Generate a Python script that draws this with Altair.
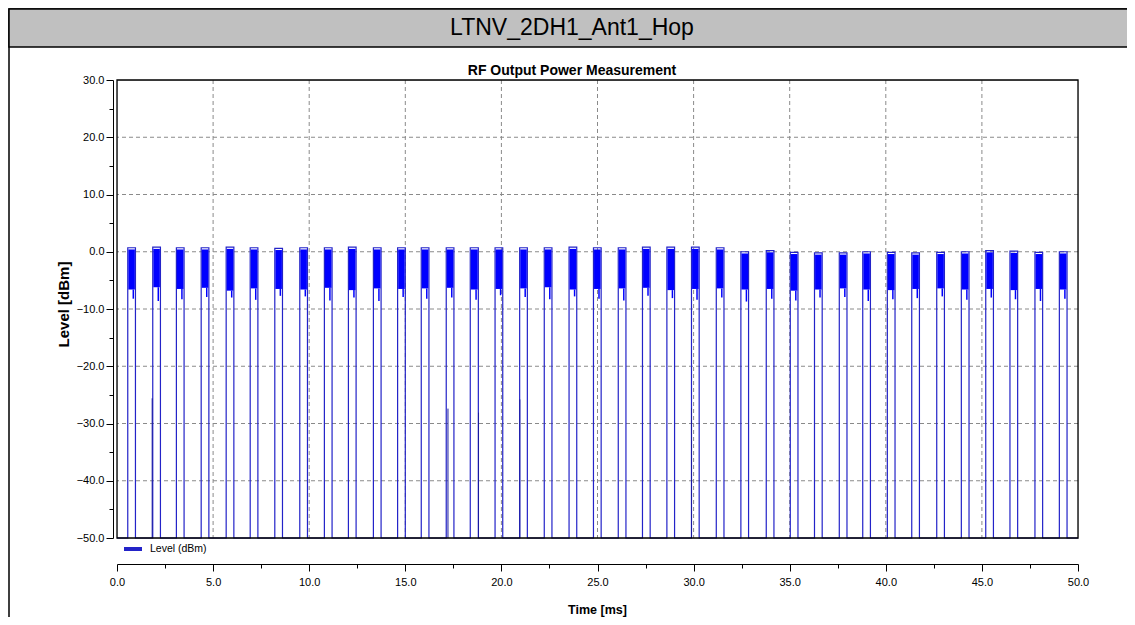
import altair as alt
import pandas as pd

header_text = ["LTNV_2DH1_Ant1_Hop"]
chart_title = ["RF Output Power Measurement"]
series_name = "Level (dBm)"

# burst start / end times (ms)
pulse_start = [0.56, 1.86, 3.09, 4.38, 5.68, 6.93, 8.21, 9.51, 10.79, 12.04,
               13.34, 14.60, 15.83, 17.13, 18.38, 19.67, 20.95, 22.23, 23.52, 24.79,
               26.08, 27.34, 28.61, 29.89, 31.18, 32.46, 33.78, 35.03, 36.29, 37.58,
               38.80, 40.08, 41.35, 42.65, 43.93, 45.20, 46.46, 47.76, 49.03]
pulse_end = [0.96, 2.26, 3.49, 4.78, 6.08, 7.33, 8.61, 9.91, 11.19, 12.44,
             13.74, 15.00, 16.23, 17.53, 18.80, 20.07, 21.35, 22.63, 23.92, 25.19,
             26.48, 27.74, 29.01, 30.29, 31.58, 32.86, 34.18, 35.43, 36.69, 37.98,
             39.20, 40.48, 41.75, 43.05, 44.33, 45.60, 46.86, 48.16, 49.43]
# burst peak level (dBm)
pulse_top = [0.7, 0.8, 0.7, 0.7, 0.8, 0.7, 0.6, 0.7, 0.7, 0.8,
             0.7, 0.7, 0.7, 0.7, 0.7, 0.7, 0.7, 0.7, 0.8, 0.7,
             0.7, 0.8, 0.8, 0.8, 0.7, 0.0, 0.2, -0.1, -0.2, -0.2,
             0.0, -0.1, -0.2, -0.1, 0.0, 0.2, 0.1, -0.1, 0.0]
# lower edge of the dense modulation band (dBm)
band_low = [-6.6, -6.2, -6.5, -6.3, -6.8, -6.4, -6.5, -6.6, -6.3, -6.7,
            -6.4, -6.5, -6.4, -6.3, -6.6, -6.5, -6.4, -6.2, -6.6, -6.5,
            -6.4, -6.3, -6.7, -6.5, -6.4, -6.6, -6.5, -6.8, -6.6, -6.4,
            -6.6, -6.7, -6.5, -6.4, -6.6, -6.5, -6.7, -6.5, -6.6]
# deepest dip inside each burst (dBm)
dip_low = [-8.2, -8.6, -8.3, -7.9, -8.0, -8.4, -7.7, -7.8, -8.5, -8.0,
           -8.6, -7.9, -8.2, -8.0, -8.4, -7.6, -7.9, -8.3, -7.8, -8.2,
           -8.5, -7.7, -8.1, -8.4, -8.0, -8.7, -8.2, -8.5, -8.0, -7.9,
           -8.6, -8.3, -8.1, -7.8, -8.4, -8.0, -8.3, -8.6, -8.2]
# isolated edge samples
spike_t = [1.83, 17.22, 18.81, 20.96, 29.89]
spike_level = [-25.6, -27.4, -28.1, -25.8, -27.3]
floor_level = -50.0

x_ticks = [0, 2.5, 5, 7.5, 10, 12.5, 15, 17.5, 20, 22.5, 25, 27.5, 30, 32.5,
           35, 37.5, 40, 42.5, 45, 47.5, 50]
y_ticks = [-50, -45, -40, -35, -30, -25, -20, -15, -10, -5, 0, 5, 10, 15, 20, 25, 30]
x_grid = [5, 10, 15, 20, 25, 30, 35, 40, 45]
y_grid = [-40, -30, -20, -10, 0, 10, 20]

# ---- build tables ----
pts = [(0.0, floor_level)]
for s, e, t in zip(pulse_start, pulse_end, pulse_top):
    pts += [(s, floor_level), (s, t), (e, t), (e, floor_level)]
pts.append((50.0, floor_level))
trace = pd.DataFrame({"t": [p[0] for p in pts], "lvl": [p[1] for p in pts],
                      "i": list(range(len(pts))), "series": series_name})

bands = pd.DataFrame({"s": pulse_start, "e": pulse_end, "top": pulse_top,
                      "low": band_low, "dip": dip_low})
bands["s2"] = bands["s"] + 0.03
bands["e2"] = bands["e"] - 0.03
bands["top2"] = bands["top"] - 0.3
bands["dx"] = bands["s"] + (bands["e"] - bands["s"]) * 0.72

spikes = pd.DataFrame({"t": spike_t, "lvl": spike_level, "floor": floor_level})

W, H = 961, 458
PL, PT = 109, 72
TW, TH = 1119, 609

SANS = "Liberation Sans, Arial"

xs = alt.Scale(domain=[0, 50], nice=False, zero=False)
ys = alt.Scale(domain=[-50, 30], nice=False, zero=False)

x_axis = alt.Axis(
    values=x_ticks, offset=26, grid=False,
    labelExpr="datum.value % 5 === 0 ? format(datum.value, '.1f') : ''",
    tickSize={"condition": {"test": "datum.value % 5 === 0", "value": 7}, "value": 4},
    labelFlush=False, labelOverlap=False, labelPadding=5,
    labelFont=SANS, labelFontSize=11, labelColor="black",
    domainColor="black", tickColor="black",
    title="Time [ms]", titleFont=SANS, titleFontSize=12.5, titleFontWeight="bold",
    titleColor="black", titleBaseline="alphabetic", titleY=49, titleX=480,
    titleAlign="center",
)
y_axis = alt.Axis(
    values=y_ticks, offset=4, grid=False,
    labelExpr="datum.value % 10 === 0 ? format(datum.value, '.1f') : ''",
    tickSize={"condition": {"test": "datum.value % 10 === 0", "value": 7}, "value": 4},
    labelFlush=False, labelOverlap=False, labelPadding=2,
    labelFont=SANS, labelFontSize=11, labelColor="black",
    domainColor="black", tickColor="black",
    title="Level [dBm]", titleFont=SANS, titleFontSize=15, titleFontWeight="bold",
    titleColor="black", titleAngle=270, titleBaseline="alphabetic",
    titleX=-45, titleY=224, titleAlign="center",
)


def X(f):
    return alt.X(f, type="quantitative", scale=xs, axis=x_axis)


def Y(f):
    return alt.Y(f, type="quantitative", scale=ys, axis=y_axis)


grid_x = alt.Chart(pd.DataFrame({"g": x_grid})).mark_rule(
    color="#8a8a8a", strokeDash=[4, 3], strokeWidth=1
).encode(x=X("g"))
grid_y = alt.Chart(pd.DataFrame({"g": y_grid})).mark_rule(
    color="#8a8a8a", strokeDash=[4, 3], strokeWidth=1
).encode(y=Y("g"))

line = alt.Chart(trace).mark_line(strokeWidth=1.2, interpolate="linear").encode(
    x=X("t"),
    y=Y("lvl"),
    order=alt.Order("i:Q"),
    color=alt.Color("series:N",
                    scale=alt.Scale(domain=[series_name], range=["#2323c8"]),
                    legend=alt.Legend(orient="none", legendX=5, legendY=458,
                                      title=None, symbolType="stroke",
                                      symbolSize=324, symbolStrokeWidth=4,
                                      labelFont=SANS, labelFontSize=10.5,
                                      labelColor="black", labelOffset=6,
                                      padding=0)),
)

band = alt.Chart(bands).mark_rect(color="#0000ff").encode(
    x=X("s2"), x2="e2:Q", y=Y("low"), y2="top2:Q")

dips = alt.Chart(bands).mark_rule(color="#0000ff", strokeWidth=1.5).encode(
    x=X("dx"), y=Y("dip"), y2="low:Q")

spk = alt.Chart(spikes).mark_rule(color="#1a1aa0", strokeWidth=1).encode(
    x=X("t"), y=Y("floor"), y2="lvl:Q")

plot_frame = alt.Chart(pd.DataFrame({"k": [0]})).mark_rect(
    fillOpacity=0, stroke="black", strokeWidth=1.3
).encode(x=alt.value(0), x2=alt.value(W), y=alt.value(0), y2=alt.value(H))

frame = alt.Chart(pd.DataFrame({"k": [0]})).mark_rect(
    fillOpacity=0, stroke="black", strokeWidth=1.5
).encode(x=alt.value(-PL + 1), x2=alt.value(TW + 40), y=alt.value(-PT + 1),
         y2=alt.value(TH + 40))

header = alt.Chart(pd.DataFrame({"k": [0]})).mark_rect(
    fill="#c0c0c0", stroke="black", strokeWidth=1.5
).encode(x=alt.value(-PL + 1), x2=alt.value(TW + 40), y=alt.value(-PT + 1),
         y2=alt.value(-33))

header_lbl = alt.Chart(pd.DataFrame({"txt": header_text})).mark_text(
    font=SANS, fontSize=23, color="black", align="center", baseline="alphabetic"
).encode(x=alt.value(455), y=alt.value(-45), text="txt:N")

title_lbl = alt.Chart(pd.DataFrame({"txt": chart_title})).mark_text(
    font=SANS, fontSize=14, fontWeight="bold", color="black",
    align="center", baseline="alphabetic"
).encode(x=alt.value(455), y=alt.value(-5), text="txt:N")

chart = alt.layer(
    grid_x, grid_y, line, band, dips, spk, plot_frame, frame, header,
    header_lbl, title_lbl
).properties(
    width=W, height=H,
    autosize=alt.AutoSizeParams(type="none"),
    padding={"left": PL, "top": PT, "right": TW - PL - W, "bottom": TH - PT - H},
).configure_view(
    stroke="black", strokeWidth=1
).configure(background="white")

chart.save("out.html", embed_options={"renderer": "svg", "actions": False})
